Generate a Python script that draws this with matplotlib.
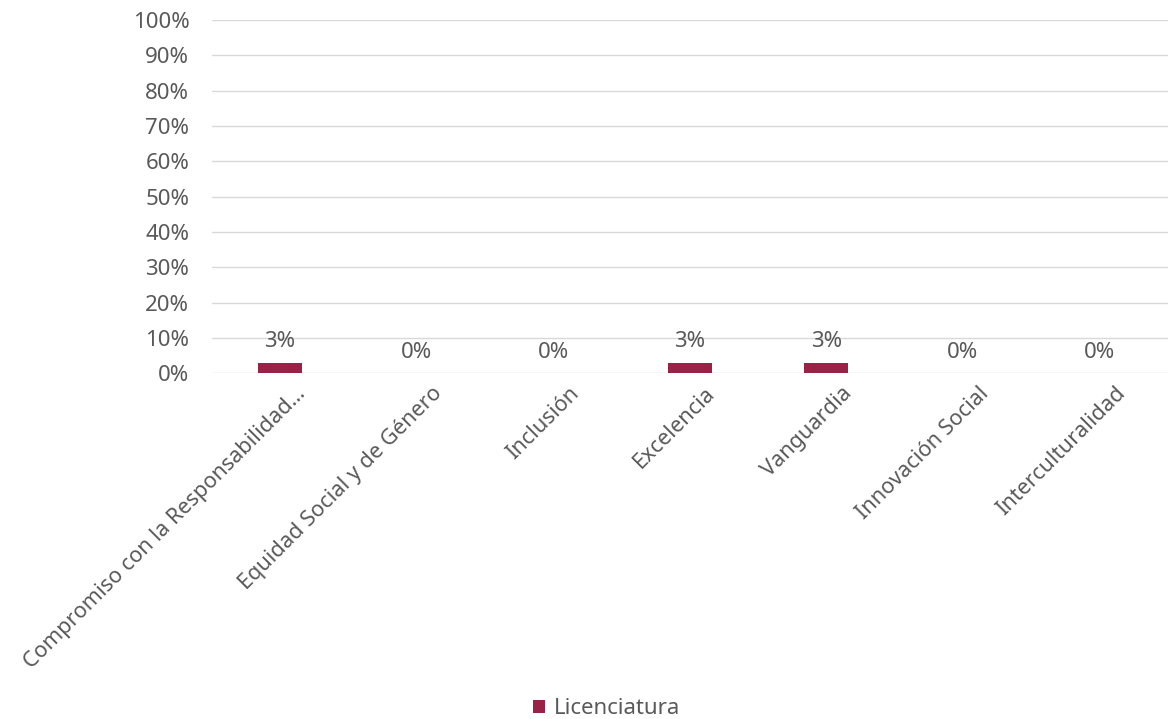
import matplotlib.pyplot as plt
from matplotlib.ticker import PercentFormatter
from matplotlib.transforms import ScaledTranslation

# Values
categories = [
    "Compromiso con la Responsabilidad...",
    "Equidad Social y de Género",
    "Inclusión",
    "Excelencia",
    "Vanguardia",
    "Innovación Social",
    "Interculturalidad",
]
licenciatura = [3, 0, 0, 3, 3, 0, 0]
labels = ["3%", "0%", "0%", "3%", "3%", "0%", "0%"]

bar_color = "#9b2247"
text_color = "#595959"
fs = 16

plt.rcParams["font.family"] = ["Noto Sans", "DejaVu Sans"]
plt.rcParams["font.size"] = fs

fig = plt.figure(figsize=(11.69, 7.19), dpi=100)
ax = fig.add_axes([0.181, 0.481, 0.818, 0.491])

x = range(len(categories))
bars = ax.bar(x, licenciatura, width=0.32, color=bar_color, label="Licenciatura", zorder=3)

for rect, lab in zip(bars, labels):
    ax.annotate(lab, (rect.get_x() + rect.get_width() / 2, rect.get_height()),
                xytext=(0, 15), textcoords="offset points",
                ha="center", va="center", color=text_color, fontsize=fs)

ax.set_ylim(0, 100)
ax.set_xlim(-0.5, len(categories) - 0.5)
ax.set_yticks(range(0, 101, 10))
ax.yaxis.set_major_formatter(PercentFormatter(decimals=0))
ax.grid(axis="y", color="#d9d9d9", linewidth=1, zorder=0)

for s in ax.spines.values():
    s.set_visible(False)

ax.set_xticks(list(x))
ax.set_xticklabels(categories, rotation=45, ha="right", rotation_mode="anchor")
ax.tick_params(axis="both", length=0, colors=text_color, labelsize=fs)
ax.tick_params(axis="x", labelsize=15.6, pad=7)
ax.tick_params(axis="y", pad=16)

# shift the rotated labels so their upper end sits right of the tick, like the original
shift = ScaledTranslation(15 / 100, 0, fig.dpi_scale_trans)
for t in ax.get_xticklabels():
    t.set_transform(t.get_transform() + shift)

fig.legend(handles=[bars], labels=["Licenciatura"], loc="center",
           bbox_to_anchor=(0.519, 0.014), frameon=False, fontsize=fs,
           handlelength=0.55, handleheight=0.55, handletextpad=0.4,
           labelcolor=text_color)

fig.savefig("out.png", dpi=100)
